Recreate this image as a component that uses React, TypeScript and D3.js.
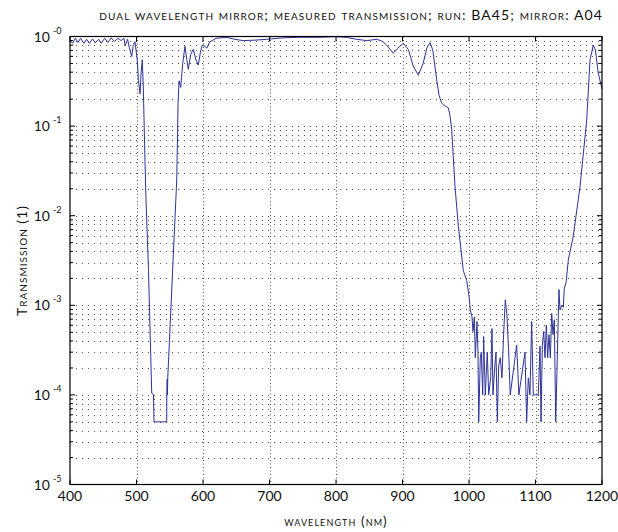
import React from "react";
import { scaleLinear, scaleLog, line } from "d3";

const wavelength = [
  400, 404, 408, 412, 416, 421, 425, 429, 434, 438, 443, 447, 452, 457, 462, 467, 472, 477, 481, 483,
  486.7, 489, 492.8, 495, 497.7, 501, 503, 505.3, 507, 508.7, 510.2, 512.8, 514.3, 518, 522.9, 525.5,
  526.3, 545.4, 545.6, 546.2, 546.5, 547, 560.5, 562.5, 564, 566.5, 569.5, 572.9, 575.5, 577.9, 581.5,
  585.4, 589, 592.9, 596, 598.8, 602, 605.6, 610, 615, 619.8, 635.6, 648, 660.6, 678, 695.8, 720, 745.9,
  775, 801, 816, 831.1, 846.2, 861.2, 869, 876.2, 886.2, 893, 901.2, 909, 916, 923.8, 931, 937, 941.4,
  945.5, 951.4, 955, 958.9, 963, 968.9, 971.5, 974, 979, 984, 991.4, 996.5, 1000, 1002, 1004.5, 1006,
  1008, 1009.5, 1012, 1013.5, 1014.6, 1017, 1018.5, 1020.6, 1022, 1024.5, 1027.5, 1029.6, 1032.6,
  1034.6, 1036, 1038.6, 1040.6, 1042.6, 1044.6, 1047, 1049.6, 1052, 1054.6, 1057, 1059.7, 1062, 1071.7,
  1075, 1084.2, 1086.7, 1089.2, 1091.7, 1094.2, 1096.7, 1104.2, 1106.8, 1108.3, 1110.3, 1112.3, 1114.3,
  1116.3, 1118.3, 1120.3, 1122.3, 1124.4, 1126.3, 1128.3, 1130.4, 1135.3, 1136.8, 1139.4, 1141.8,
  1143.3, 1146, 1149.3, 1156.8, 1166.9, 1177, 1182, 1186.9, 1190, 1194.4, 1200,
];
const transmission = [
  0.91, 0.84, 0.955, 0.86, 0.955, 0.84, 0.93, 0.84, 0.94, 0.85, 0.93, 0.84, 0.955, 0.86, 0.965, 0.88, 0.955, 0.9, 0.955, 0.79,
  0.93, 0.76, 0.6, 0.79, 0.875, 0.56, 0.32, 0.23, 0.4, 0.55, 0.275, 0.04, 0.015, 2.5e-3, 1.05e-4, 1e-4,
  5e-5, 5e-5, 1e-4, 1.5e-4, 1e-4, 1.55e-4, 0.025, 0.18, 0.32, 0.27, 0.5, 0.78, 0.56, 0.43, 0.63,
  0.72, 0.56, 0.48, 0.66, 0.8, 0.79, 0.74, 0.87, 0.91, 0.955, 0.977, 0.93, 0.9, 0.91, 0.93, 0.966, 0.98,
  0.98, 0.995, 0.977, 0.93, 0.9, 0.93, 0.89, 0.8, 0.65, 0.74, 0.84, 0.71, 0.47, 0.37, 0.5, 0.76, 0.85,
  0.71, 0.33, 0.22, 0.18, 0.17, 0.16, 0.13, 0.091, 0.021, 7.6e-3, 2.45e-3, 1.9e-3, 1.26e-3, 8.9e-4, 7.4e-4, 5.1e-4,
  7.4e-4, 2.6e-4, 6.6e-4, 3e-4, 5e-5, 2.6e-4, 3e-4, 1e-4, 4.5e-4, 1e-4, 3e-4, 1e-4, 1.55e-4,
  5.5e-4, 1e-4, 2e-4, 3e-4, 5e-5, 2.1e-4, 2.6e-4, 1.55e-4, 4.7e-4, 1.15e-3, 7.8e-4, 3e-4, 1e-4, 3.6e-4,
  1e-4, 3e-4, 5e-5, 1.55e-4, 1e-4, 6.6e-4, 1e-4, 1e-4, 3.5e-4, 5e-5, 3.6e-4, 5.1e-4, 2.6e-4,
  6e-4, 2.6e-4, 4.7e-4, 2.6e-4, 8.1e-4, 4.7e-4, 6.9e-4, 5e-5, 1.5e-3, 8.9e-4, 1e-3, 9.5e-4,
  1.55e-3, 1.8e-3, 3.2e-3, 5.9e-3, 0.021, 0.117, 0.55, 0.8, 0.71, 0.39, 0.26,
];

const xTicks = [400, 500, 600, 700, 800, 900, 1000, 1100, 1200];
const decades = [1, 1e-1, 1e-2, 1e-3, 1e-4, 1e-5];
const exponentLabels = ["-0", "-1", "-2", "-3", "-4", "-5"];

const W = 618;
const H = 532;
const left = 70;
const right = 602;
const top = 36.5;
const bottom = 484.5;
const navy = "#2e3299";
const font = "Lato, 'Open Sans', sans-serif";

export default function App() {
  const x = scaleLinear().domain([400, 1200]).range([left, right]);
  const y = scaleLog().domain([1e-5, 1]).range([bottom, top]);

  const minors: number[] = [];
  for (let d = 1e-5; d < 1; d *= 10) {
    for (let m = 2; m <= 9; m++) minors.push(d * m);
  }

  const pts = wavelength.map((w, i) => [w, transmission[i]] as [number, number]);
  const path = line<[number, number]>()
    .x((d) => x(d[0]))
    .y((d) => y(d[1]))(pts);

  const snap = (v: number) => Math.round(v) + 0.5;

  return (
    <svg width={W} height={H} style={{ position: "absolute", left: 0, top: 0, background: "#fff" }}>
      {/* grid */}
      <g stroke="#555" strokeWidth={1}>
        {[...decades.slice(1, 5), ...minors].map((v, i) => (
          <line key={"h" + i} x1={left} x2={right} y1={snap(y(v))} y2={snap(y(v))} strokeDasharray="1,5" />
        ))}
        {xTicks.slice(1, -1).map((t) => (
          <line key={"v" + t} x1={snap(x(t))} x2={snap(x(t))} y1={top} y2={bottom} strokeDasharray="1,2.5" />
        ))}
      </g>

      <path d={path || ""} fill="none" stroke={navy} strokeWidth={1} strokeLinejoin="round" />

      {/* frame and ticks */}
      <rect x={left} y={top} width={right - left} height={bottom - top} fill="none" stroke="#000" strokeWidth={1.2} />
      <g stroke="#000" strokeWidth={1}>
        {decades.map((v) => (
          <g key={"d" + v}>
            <line x1={left} x2={left + 5} y1={y(v)} y2={y(v)} />
            <line x1={right} x2={right - 5} y1={y(v)} y2={y(v)} />
          </g>
        ))}
        {minors.map((v, i) => (
          <g key={"m" + i}>
            <line x1={left} x2={left + 3} y1={y(v)} y2={y(v)} />
            <line x1={right} x2={right - 3} y1={y(v)} y2={y(v)} />
          </g>
        ))}
        {xTicks.map((t) => (
          <g key={"t" + t}>
            <line x1={x(t)} x2={x(t)} y1={bottom} y2={bottom - 5} />
            <line x1={x(t)} x2={x(t)} y1={top} y2={top + 5} />
          </g>
        ))}
      </g>

      {/* tick labels */}
      <g fontFamily={font} fontSize={14} fill="#111">
        {decades.map((v, i) => (
          <text key={"yl" + i} x={50} y={y(v) + 5} textAnchor="end">
            10
          </text>
        ))}
        {decades.map((v, i) => (
          <text key={"ye" + i} x={53} y={y(v) - 3} fontSize={9}>
            {exponentLabels[i]}
          </text>
        ))}
        {xTicks.map((t) => (
          <text key={"xl" + t} x={x(t)} y={501} textAnchor="middle">
            {t}
          </text>
        ))}
      </g>

      <text x={603} y={20} textAnchor="end" fontFamily={font} fontSize={14} letterSpacing={1.1} fill="#111" style={{ fontVariant: "small-caps" }}>
        dual wavelength mirror; measured transmission; run: BA45; mirror: A04
      </text>
      <text x={336} y={526} textAnchor="middle" fontFamily={font} fontSize={13.5} letterSpacing={1.1} fill="#111" style={{ fontVariant: "small-caps" }}>
        wavelength (nm)
      </text>
      <text
        transform={`translate(27,${(top + bottom) / 2}) rotate(-90)`}
        textAnchor="middle"
        fontFamily={font}
        fontSize={14}
        letterSpacing={1}
        fill="#111"
        style={{ fontVariant: "small-caps" }}
      >
        Transmission (1)
      </text>
    </svg>
  );
}
